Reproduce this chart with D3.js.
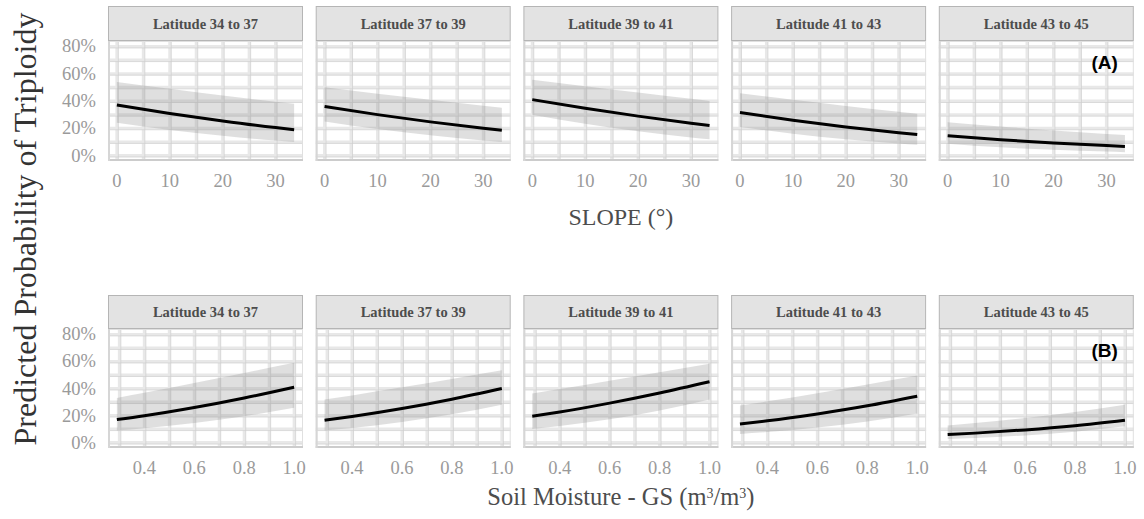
<!DOCTYPE html>
<html><head><meta charset="utf-8">
<script src="https://cdn.jsdelivr.net/npm/d3@7"></script>
<style>body{margin:0;background:#fff}svg{display:block}</style>
</head><body><svg id="c" width="1144" height="519"></svg>
<script>
const latitudes = ["Latitude 34 to 37","Latitude 37 to 39","Latitude 39 to 41","Latitude 41 to 43","Latitude 43 to 45"];
// Row A: SLOPE
const slopeX = [0, 10, 20, 30, 33.5];
const slopeFit = [
  [0.37,0.309,0.254,0.205,0.19],
  [0.36,0.30,0.247,0.20,0.185],
  [0.41,0.347,0.289,0.237,0.22],
  [0.315,0.259,0.21,0.168,0.155],
  [0.145,0.116,0.092,0.073,0.067]];
const slopeUpper = [
  [0.54,0.49,0.44,0.395,0.38],
  [0.50,0.454,0.409,0.365,0.35],
  [0.555,0.508,0.462,0.416,0.40],
  [0.456,0.409,0.364,0.321,0.307],
  [0.245,0.213,0.184,0.158,0.15]];
const slopeLower = [
  [0.24,0.188,0.145,0.11,0.10],
  [0.25,0.194,0.148,0.111,0.10],
  [0.30,0.233,0.178,0.133,0.12],
  [0.21,0.16,0.12,0.089,0.08],
  [0.087,0.06,0.042,0.029,0.025]];
// Row B: Soil moisture
const soilX = [0.29, 0.4, 0.6, 0.8, 1.0];
const soilFit = [
  [0.17,0.198,0.259,0.33,0.41],
  [0.165,0.193,0.252,0.321,0.40],
  [0.195,0.226,0.292,0.367,0.45],
  [0.138,0.161,0.212,0.272,0.343],
  [0.059,0.07,0.094,0.125,0.165]];
const soilUpper = [
  [0.33,0.368,0.44,0.515,0.59],
  [0.318,0.349,0.409,0.471,0.535],
  [0.363,0.396,0.458,0.52,0.583],
  [0.274,0.305,0.365,0.429,0.496],
  [0.126,0.144,0.182,0.227,0.28]];
const soilLower = [
  [0.089,0.106,0.145,0.195,0.257],
  [0.089,0.108,0.152,0.209,0.28],
  [0.10,0.122,0.172,0.237,0.318],
  [0.064,0.078,0.112,0.156,0.215],
  [0.027,0.034,0.053,0.08,0.12]];
const yTicks = [0, 0.2, 0.4, 0.6, 0.8];
const yGrid = [0,0.1,0.2,0.3,0.4,0.5,0.6,0.7,0.8];
const slopeTicks = [0, 10, 20, 30];
const slopeGrid = [0,5,10,15,20,25,30];
const soilTicks = [0.4, 0.6, 0.8, 1.0];
const soilGrid = [0.3,0.4,0.5,0.6,0.7,0.8,0.9,1.0];

const svg = d3.select("#c");
const serif = "'Liberation Serif','Times New Roman',serif";
const panelW = 195, step = 207.7, left0 = 108;

const rows = [
  {top:41, bottom:161, stripTop:6, xs:slopeX, fit:slopeFit, up:slopeUpper, lo:slopeLower,
   xdom:[0,33.5], ticks:slopeTicks, grid:slopeGrid, fmt:d=>d3.format("d")(d), tag:"(A)"},
  {top:329, bottom:448, stripTop:295, xs:soilX, fit:soilFit, up:soilUpper, lo:soilLower,
   xdom:[0.29,1.0], ticks:soilTicks, grid:soilGrid, fmt:d=>d3.format(".1f")(d), tag:"(B)"}
];

rows.forEach((r, ri) => {
  const y = d3.scaleLinear().domain([-0.04, 0.84]).range([r.bottom, r.top]);
  const ext = (r.xdom[1]-r.xdom[0])*0.05;
  latitudes.forEach((lat, pi) => {
    const x0 = left0 + pi*step;
    const x = d3.scaleLinear().domain([r.xdom[0]-ext, r.xdom[1]+ext]).range([x0, x0+panelW]);
    const g = svg.append("g");
    // strip
    g.append("rect").attr("x", x0+0.5).attr("y", r.stripTop+0.5).attr("width", panelW-1).attr("height", r.top-r.stripTop-1)
      .attr("fill", "#e3e3e3").attr("stroke", "#b5b5b5").attr("stroke-width", 1);
    g.append("text").attr("x", x0+panelW/2).attr("y", (r.stripTop+r.top)/2+5)
      .attr("text-anchor","middle").attr("font-family", serif).attr("font-weight","bold")
      .attr("font-size", 14.5).attr("fill", "#4d4d4d").text(lat);
    // panel bg
    g.append("rect").attr("x", x0).attr("y", r.top).attr("width", panelW).attr("height", r.bottom-r.top)
      .attr("fill", "#fff");
    // grid thick
    r.grid.forEach(v => {
      g.append("line").attr("x1", x(v)).attr("x2", x(v)).attr("y1", r.top).attr("y2", r.bottom)
        .attr("stroke", "#e8e8e8").attr("stroke-width", 3);
    });
    yGrid.forEach(v => {
      g.append("line").attr("x1", x0).attr("x2", x0+panelW).attr("y1", y(v)).attr("y2", y(v))
        .attr("stroke", "#e8e8e8").attr("stroke-width", 3);
    });
    // grid thin
    r.grid.forEach(v => {
      g.append("line").attr("x1", x(v)+1.5).attr("x2", x(v)+1.5).attr("y1", r.top).attr("y2", r.bottom)
        .attr("stroke", "#cfcfcf").attr("stroke-width", 0.7);
    });
    yGrid.forEach(v => {
      g.append("line").attr("x1", x0).attr("x2", x0+panelW).attr("y1", y(v)+1.5).attr("y2", y(v)+1.5)
        .attr("stroke", "#cfcfcf").attr("stroke-width", 0.7);
    });
    // border
    g.append("rect").attr("x", x0+0.5).attr("y", r.top+0.5).attr("width", panelW-1).attr("height", r.bottom-r.top-1)
      .attr("fill", "none").attr("stroke", "#e0e0e0").attr("stroke-width", 1);
    g.append("line").attr("x1", x0).attr("x2", x0+panelW).attr("y1", r.bottom-1).attr("y2", r.bottom-1)
      .attr("stroke", "#cccccc").attr("stroke-width", 2);
    g.append("line").attr("x1", x0+1).attr("x2", x0+1).attr("y1", r.top).attr("y2", r.bottom)
      .attr("stroke", "#d6d6d6").attr("stroke-width", 2);
    // ribbon
    const pts = r.xs.map((xv, i) => ({x:xv, f:r.fit[pi][i], u:r.up[pi][i], l:r.lo[pi][i]}));
    g.append("path").datum(pts)
      .attr("d", d3.area().x(d=>x(d.x)).y0(d=>y(d.l)).y1(d=>y(d.u)).curve(d3.curveMonotoneX))
      .attr("fill", "#8c8c8c").attr("fill-opacity", 0.28);
    g.append("path").datum(pts)
      .attr("d", d3.line().x(d=>x(d.x)).y(d=>y(d.f)).curve(d3.curveMonotoneX))
      .attr("fill", "none").attr("stroke", "#000").attr("stroke-width", 3);
    // x tick labels
    r.ticks.forEach(t => {
      g.append("text").attr("x", x(t)).attr("y", r.bottom+26).attr("text-anchor","middle")
        .attr("font-family", serif).attr("font-size", 18.5).attr("fill", "#9a9a9a").text(r.fmt(t));
    });
    if (pi === 0) {
      yTicks.forEach(t => {
        svg.append("text").attr("x", 96).attr("y", y(t)+6).attr("text-anchor","end")
          .attr("font-family", serif).attr("font-size", 18.5).attr("fill", "#9a9a9a").text(d3.format(".0%")(t));
      });
    }
    if (pi === 4) {
      svg.append("text").attr("x", x0+panelW-16).attr("y", r.top+28).attr("text-anchor","end")
        .attr("font-family", "'Liberation Sans',Arial,sans-serif").attr("font-weight","bold")
        .attr("font-size", 19).attr("fill", "#000").text(r.tag);
    }
  });
});

const cx = left0 + (4*step + panelW)/2;
svg.append("text").attr("x", cx).attr("y", 225).attr("text-anchor","middle")
  .attr("font-family", serif).attr("font-size", 24).attr("fill", "#4d4d4d").text("SLOPE (°)");
const t2 = svg.append("text").attr("x", cx).attr("y", 505).attr("text-anchor","middle")
  .attr("font-family", serif).attr("font-size", 24.5).attr("fill", "#4d4d4d");
t2.append("tspan").text("Soil Moisture - GS (m");
t2.append("tspan").attr("baseline-shift","super").attr("font-size", 14).text("3");
t2.append("tspan").text("/m");
t2.append("tspan").attr("baseline-shift","super").attr("font-size", 14).text("3");
t2.append("tspan").text(")");
svg.append("text").attr("transform", "translate(36,229) rotate(-90)").attr("text-anchor","middle")
  .attr("font-family", serif).attr("font-size", 32).attr("fill", "#333").text("Predicted Probability of Triploidy");
</script></body></html>
